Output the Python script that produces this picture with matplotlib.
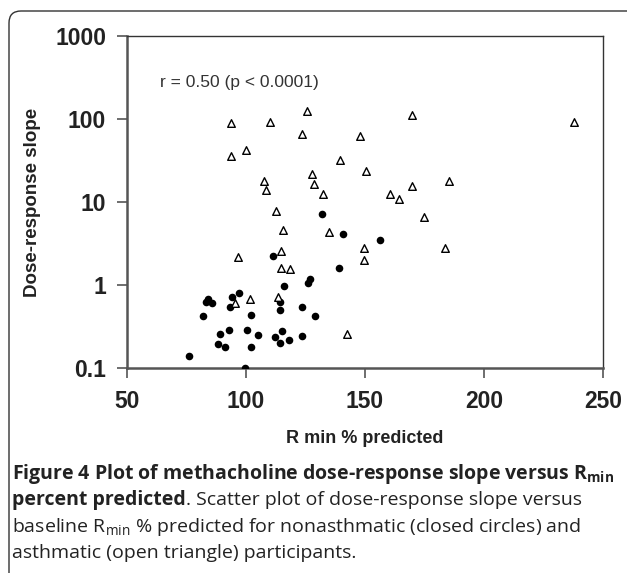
import numpy as np
import matplotlib.pyplot as plt
from matplotlib.path import Path
from matplotlib.patches import PathPatch

# nonasthmatic (closed circles)
rmin_nonasthma = [75.9, 82.1, 83.1, 83.9, 85.8, 88.4, 89.2, 91.3, 93.0, 93.1,
                  94.1, 96.9, 99.6, 100.3, 102.2, 102.2, 105.0, 111.3, 112.3, 114.2,
                  114.2, 115.1, 114.2, 116.1, 118.1, 123.4, 123.4, 126.1, 127.0, 129.0,
                  132.1, 139.1, 140.9, 156.3]
slope_nonasthma = [0.14, 0.42, 0.63, 0.67, 0.61, 0.196, 0.26, 0.178, 0.287, 0.54,
                   0.71, 0.79, 0.10, 0.287, 0.44, 0.178, 0.25, 2.22, 0.238, 0.63,
                   0.50, 0.278, 0.20, 0.97, 0.22, 0.55, 0.245, 1.05, 1.19, 0.42,
                   7.2, 1.62, 4.08, 3.46]

# asthmatic (open triangles)
rmin_asthma = [93.6, 93.6, 99.9, 96.5, 95.5, 101.8, 110.2, 107.7, 108.4, 112.7,
               115.7, 114.6, 114.6, 118.5, 113.6, 125.5, 123.7, 127.6, 128.4, 132.4,
               134.7, 139.5, 142.4, 147.8, 150.5, 149.6, 149.6, 160.6, 164.4, 169.6,
               169.6, 174.6, 185.4, 183.6, 237.7]
slope_asthma = [88.7, 35.8, 42.0, 2.19, 0.60, 0.67, 91.2, 17.9, 14.0, 7.8,
                4.6, 2.59, 1.59, 1.56, 0.71, 126, 65.5, 21.6, 16.3, 12.5,
                4.3, 32, 0.257, 62, 23.8, 2.77, 2.0, 12.5, 10.8, 112,
                15.6, 6.6, 17.9, 2.77, 92]

xticks = [50, 100, 150, 200, 250]
yticks = [0.1, 1, 10, 100, 1000]
ytick_labels = ["0.1", "1", "10", "100", "1000"]

plt.rcParams['font.family'] = ['Liberation Sans', 'DejaVu Sans']
plt.rcParams['mathtext.fontset'] = 'custom'
plt.rcParams['mathtext.rm'] = 'Open Sans'
plt.rcParams['mathtext.bf'] = 'Open Sans:bold'

W, H = 627, 573
fig = plt.figure(figsize=(W / 100, H / 100), dpi=100)
ax = fig.add_axes([127 / W, 1 - 368 / H, (603 - 127) / W, (368 - 36) / H])

ax.scatter(rmin_nonasthma, slope_nonasthma, s=30, c='black', marker='o',
           linewidths=0, zorder=3)
ax.scatter(rmin_asthma, slope_asthma, s=30, facecolors='white', edgecolors='black',
           marker='^', linewidths=1.0, zorder=3)

ax.set_yscale('log')
ax.set_xlim(50, 250)
ax.set_ylim(0.1, 1000)
ax.set_xticks(xticks)
ax.set_xticklabels([str(v) for v in xticks], fontsize=16.5, fontweight='bold', color='#222222')
ax.set_yticks(yticks)
ax.set_yticklabels(ytick_labels, fontsize=16.5, fontweight='bold', color='#222222')
ax.yaxis.set_minor_locator(plt.NullLocator())
ax.tick_params(axis='y', direction='out', length=7, width=1.2, color='#555555', pad=8)
ax.tick_params(axis='x', direction='out', length=7, width=1.2, color='#555555', pad=9)

for side in ['left', 'bottom']:
    ax.spines[side].set_linewidth(1.8)
    ax.spines[side].set_color('#555555')
for side in ['top', 'right']:
    ax.spines[side].set_linewidth(1.0)
    ax.spines[side].set_color('#333333')

ax.set_xlabel("R min % predicted", fontsize=13, fontweight='bold', labelpad=12, color='#222222')
ax.set_ylabel("Dose-response slope", fontsize=13.5, fontweight='bold', labelpad=10, color='#222222')

fig.text(160 / W, 1 - 82.5 / H, "r = 0.50 (p < 0.0001)", fontsize=12.5,
         color='#333333', va='center', ha='left')

# outer rounded frame (left and top edges visible)
r = 12
verts = [(9, 573), (9, 11 + r), (9, 11), (9 + r, 11), (640, 11)]
codes = [Path.MOVETO, Path.LINETO, Path.CURVE3, Path.CURVE3, Path.LINETO]
verts = [(x / W, 1 - y / H) for x, y in verts]
frame = PathPatch(Path(verts, codes), transform=fig.transFigure, fill=False,
                  edgecolor='#333333', linewidth=1.0, clip_on=False)
fig.patches.append(frame)

# caption
cap_kw = dict(fontsize=14, color='#222222', family='Open Sans', va='baseline')
x0 = 12 / W
fig.text(x0, 1 - 479 / H,
         r"Figure 4 Plot of methacholine dose-response slope versus R$_{\mathbf{min}}$",
         fontweight='bold', **cap_kw)
fig.canvas.draw()
renderer = fig.canvas.get_renderer()
t1 = fig.text(x0, 1 - 505 / H, "percent predicted", fontweight='bold', **cap_kw)
bb = t1.get_window_extent(renderer)
fig.text(bb.x1 / W, 1 - 505 / H, ". Scatter plot of dose-response slope versus",
         fontweight='normal', **cap_kw)
fig.text(x0, 1 - 532 / H,
         r"baseline R$_{\mathrm{min}}$ % predicted for nonasthmatic (closed circles) and",
         fontweight='normal', **cap_kw)
fig.text(x0, 1 - 558 / H, "asthmatic (open triangle) participants.",
         fontweight='normal', **cap_kw)

fig.savefig("out.png", dpi=100)
